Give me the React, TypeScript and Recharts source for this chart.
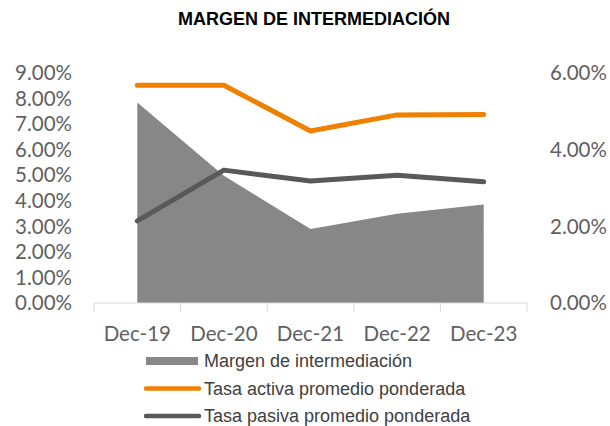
import React from 'react';
import { ComposedChart, Area, Line, XAxis, YAxis, Legend } from 'recharts';

const categories = ['Dec-19', 'Dec-20', 'Dec-21', 'Dec-22', 'Dec-23'];
const margen = [5.23, 3.32, 1.93, 2.33, 2.57];
const tasaActiva = [8.52, 8.52, 6.73, 7.36, 7.38];
const tasaPasiva = [3.21, 5.2, 4.77, 5.0, 4.74];
const leftTicks = [0, 1, 2, 3, 4, 5, 6, 7, 8, 9];
const rightTicks = [0, 2, 4, 6];

const title = 'MARGEN DE INTERMEDIACIÓN';
const seriesNames = {
  margen: 'Margen de intermediación',
  activa: 'Tasa activa promedio ponderada',
  pasiva: 'Tasa pasiva promedio ponderada',
};

const COLORS = { margen: '#878787', activa: '#F08000', pasiva: '#595959' };

const data = categories.map((c, i) => ({
  cat: c,
  margen: margen[i],
  activa: tasaActiva[i],
  pasiva: tasaPasiva[i],
}));

const TICK_FONT = { fontFamily: 'Lato', fontSize: 20.5, fill: '#5f5f5f' };
const fmt = (v: number) => `${v.toFixed(2)}%`;

const XTick = (props: any) => {
  const { x, y, payload, index, width } = props;
  const half = width / categories.length / 2;
  const isLast = index === categories.length - 1;
  return (
    <g>
      <line x1={x - half} x2={x - half} y1={y} y2={y + 9} stroke="#d9d9d9" strokeWidth={1} />
      {isLast && <line x1={x + half} x2={x + half} y1={y} y2={y + 9} stroke="#d9d9d9" strokeWidth={1} />}
      <text x={x} y={y + 38} textAnchor="middle" {...TICK_FONT}>
        {payload.value}
      </text>
    </g>
  );
};

const LegendContent = () => {
  const rows = [
    { key: 'margen', type: 'rect' },
    { key: 'activa', type: 'line' },
    { key: 'pasiva', type: 'line' },
  ];
  return (
    <svg width={400} height={84} style={{ display: 'block' }}>
      {rows.map((r, i) => {
        const cy = 13 + i * 27.5;
        const color = (COLORS as any)[r.key];
        return (
          <g key={r.key}>
            {r.type === 'rect' ? (
              <rect x={2} y={cy - 4} width={52} height={8} fill={color} />
            ) : (
              <line x1={2} x2={55} y1={cy} y2={cy} stroke={color} strokeWidth={4.5} strokeLinecap="round" />
            )}
            <text
              x={60}
              y={cy}
              dy="0.36em"
              fontFamily="Liberation Sans, Arial, sans-serif"
              fontSize={18}
              fill="#404040"
            >
              {(seriesNames as any)[r.key]}
            </text>
          </g>
        );
      })}
    </svg>
  );
};

export default function App() {
  return (
    <div style={{ position: 'absolute', left: 0, top: 0, width: 610, height: 426, background: '#fff' }}>
      <div
        style={{
          position: 'absolute',
          left: 0,
          top: 8,
          width: 628,
          textAlign: 'center',
          fontFamily: 'Liberation Sans, Arial, sans-serif',
          fontWeight: 'bold',
          fontSize: 18,
          lineHeight: '22px',
          color: '#000',
        }}
      >
        {title}
      </div>
      <ComposedChart width={610} height={426} data={data} margin={{ top: 73, right: 0, bottom: 0, left: 0 }}>
        <XAxis
          dataKey="cat"
          xAxisId="x"
          scale="band"
          height={123}
          axisLine={{ stroke: '#d9d9d9', strokeWidth: 1 }}
          tickLine={false}
          tickSize={0}
          tickMargin={0}
          tick={<XTick />}
          interval={0}
        />
        <YAxis
          yAxisId="left"
          orientation="left"
          width={94}
          domain={[0, 9]}
          ticks={leftTicks}
          tickFormatter={fmt}
          axisLine={false}
          tickLine={false}
          tickSize={0}
          tickMargin={22}
          tick={TICK_FONT}
          interval={0}
        />
        <YAxis
          yAxisId="right"
          orientation="right"
          width={83}
          domain={[0, 6]}
          ticks={rightTicks}
          tickFormatter={fmt}
          axisLine={false}
          tickLine={false}
          tickSize={0}
          tickMargin={23}
          tick={{ ...TICK_FONT, textAnchor: 'start' }}
          interval={0}
        />
        <Area
          xAxisId="x"
          yAxisId="right"
          dataKey="margen"
          name={seriesNames.margen}
          type="linear"
          fill={COLORS.margen}
          fillOpacity={1}
          stroke="none"
          isAnimationActive={false}
        />
        <Line
          xAxisId="x"
          yAxisId="left"
          dataKey="activa"
          name={seriesNames.activa}
          type="linear"
          stroke={COLORS.activa}
          strokeWidth={5}
          strokeLinecap="round"
          strokeLinejoin="round"
          dot={false}
          activeDot={false}
          isAnimationActive={false}
        />
        <Line
          xAxisId="x"
          yAxisId="left"
          dataKey="pasiva"
          name={seriesNames.pasiva}
          type="linear"
          stroke={COLORS.pasiva}
          strokeWidth={5}
          strokeLinecap="round"
          strokeLinejoin="round"
          dot={false}
          activeDot={false}
          isAnimationActive={false}
        />
        <Legend
          layout="vertical"
          align="center"
          verticalAlign="middle"
          content={<LegendContent />}
          wrapperStyle={{ position: 'absolute', left: 144, top: 348, width: 400, height: 84 }}
        />
      </ComposedChart>
    </div>
  );
}
